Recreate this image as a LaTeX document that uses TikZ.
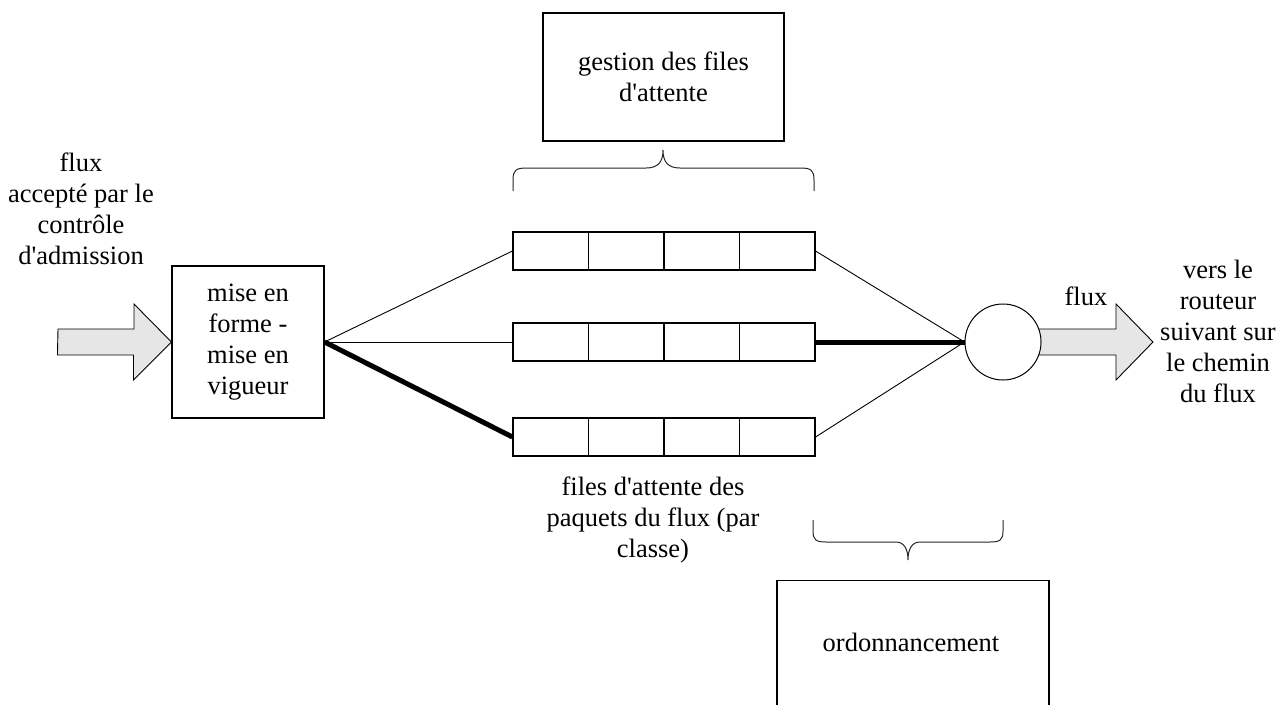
\documentclass[tikz,border=0pt]{standalone}
\usepackage{fontspec}
\setmainfont{Liberation Serif}[Ligatures=TeXOff]
\definecolor{arrowgray}{RGB}{230,230,230}
\tikzset{
  every node/.style={font=\fontsize{26.5}{31}\selectfont, inner sep=0pt, align=center},
  box/.style={draw, line width=1.1pt, fill=white},
  cell/.style={draw, line width=1.1pt, minimum width=75.5pt, minimum height=38pt},
  thinlink/.style={line width=0.9pt},
  thicklink/.style={line width=5pt},
  blockarrow/.style={draw, line width=0.9pt, fill=arrowgray, line join=miter},
  bracepath/.style={line width=1pt, draw=black!85}
}
\begin{document}
\begin{tikzpicture}[x=1pt, y=-1pt]
  \clip (0,0) rectangle (1284,704);

  % caption texts
  \node (admitted) at (81,209) {flux\\accepté par le\\contrôle\\d'admission};
  \node (queuelabel) at (653,520) {files d'attente des\\paquets du flux (par\\classe)};
  \node (nexthop) at (1218,331) {vers le\\routeur\\suivant sur\\le chemin\\du flux};
  \node (outflux) at (1086,296) {flux};

  % shaping / policing block
  \node[box, minimum width=152pt, minimum height=152pt] (shaper) at (248,342)
    {mise en\\forme -\\mise en\\vigueur};

  % queue management and scheduling blocks
  \node[box, minimum width=241pt, minimum height=128pt] (qmgmt) at (663.5,77)
    {gestion des files\\d'attente};
  \node[box, minimum width=272pt, minimum height=140pt, anchor=north] (sched) at (913,580) {};
  \node (schedtext) at (911,642) {ordonnancement};

  % per-class packet queues, four slots each
  \foreach \r/\y in {1/251,2/342,3/437}
    \foreach \c/\x in {1/550.75,2/626.25,3/701.75,4/777.25}
      \node[cell] (q\r c\c) at (\x,\y) {};

  % incoming flow arrow
  \coordinate (intail) at (58,342);
  \draw[blockarrow] (intail) ++(0,-13) -- ++(76,0) -- ++(0,-25) -- (shaper.west)
    -- ++(-38,38) -- ++(0,-25) -- ++(-76,0) -- cycle;

  % outgoing flow arrow (tail hidden under the scheduler)
  \coordinate (outtail) at (1036,342);
  \draw[blockarrow] (outtail) ++(0,-13) -- ++(80,0) -- ++(0,-25) -- ++(37,38)
    -- ++(-37,38) -- ++(0,-25) -- ++(-80,0) -- cycle;

  % scheduler
  \node[circle, draw, line width=1pt, fill=white, minimum size=76pt] (mux) at (1003,342) {};

  % classifier fan-out
  \draw[thinlink] (shaper.east) -- (q1c1.west);
  \draw[thinlink] (shaper.east) -- (q2c1.west);
  \draw[thicklink] (shaper.east) -- (q3c1.west);

  % queues into the scheduler
  \draw[thinlink] (q1c4.east) -- (mux.west);
  \draw[thicklink] (q2c4.east) -- (mux.west);
  \draw[thinlink] (q3c4.east) -- (mux.west);

  % brace over the queues
  \draw[bracepath] (513,191) -- (513,180) .. controls (513,170) and (516,168) .. (527,168)
    -- (646,168) .. controls (658,168) and (663,162) .. (663,150)
    .. controls (663,162) and (668,168) .. (680,168)
    -- (800,168) .. controls (811,168) and (814,170) .. (814,180) -- (814,191);

  % brace under the scheduling stage
  \draw[bracepath] (813,520) -- (813,531) .. controls (813,540) and (816,542) .. (826,542)
    -- (896,542) .. controls (904,542) and (908,549) .. (908,560)
    .. controls (908,549) and (912,542) .. (920,542)
    -- (990,542) .. controls (1000,542) and (1003,540) .. (1003,531) -- (1003,520);
\end{tikzpicture}
\end{document}
